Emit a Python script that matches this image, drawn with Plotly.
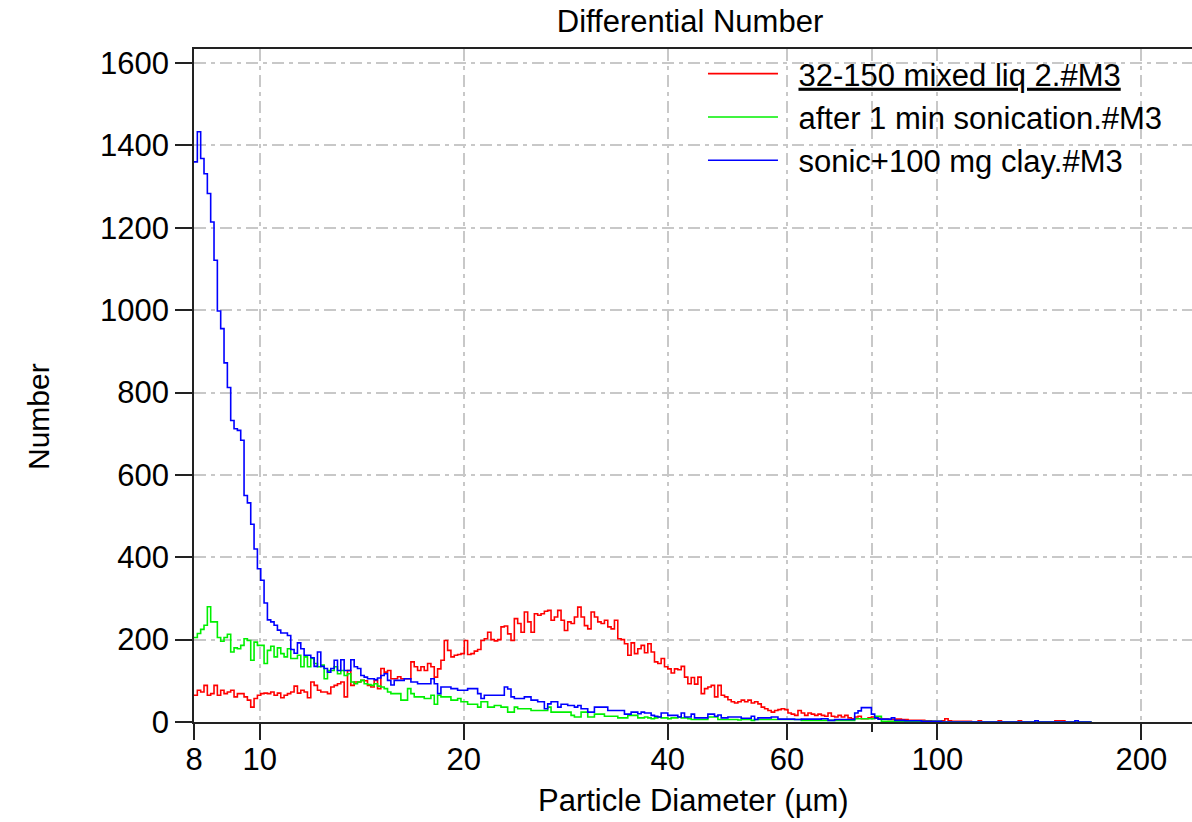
import numpy as np
import plotly.graph_objects as go

# Coulter-type channel grid: 300 log-spaced channels per 30x size range,
# shown here from 8 um upwards
CHANNEL_STEP = np.log10(30) / 300
START_UM = 8.0

# Differential number per channel (counts), one value per channel
mixed_liq = [
    65, 77, 73, 89, 65, 69, 89, 65, 77, 69,
    73, 77, 61, 69, 69, 61, 53, 36, 57, 65,
    69, 70, 69, 73, 65, 70, 59, 65, 69, 73,
    87, 70, 77, 73, 59, 97, 89, 77, 73, 73,
    69, 85, 89, 93, 97, 61, 125, 89, 97, 97,
    101, 100, 89, 85, 101, 81, 130, 121, 125, 105,
    105, 110, 105, 105, 105, 146, 134, 125, 134, 125,
    142, 134, 109, 129, 150, 198, 174, 158, 162, 164,
    166, 198, 164, 166, 172, 176, 198, 202, 218, 200,
    197, 200, 231, 233, 214, 198, 251, 239, 218, 267,
    243, 218, 263, 259, 263, 269, 271, 247, 255, 271,
    247, 222, 243, 239, 255, 279, 255, 234, 226, 267,
    255, 243, 239, 247, 231, 226, 247, 202, 200, 190,
    162, 192, 166, 178, 186, 168, 190, 170, 146, 142,
    154, 134, 129, 119, 129, 127, 135, 109, 93, 108,
    92, 109, 69, 81, 85, 89, 61, 89, 65, 61,
    54, 49, 46, 49, 53, 49, 53, 46, 49, 44,
    36, 32, 28, 24, 28, 30, 32, 30, 22, 19,
    16, 28, 22, 16, 22, 19, 16, 19, 16, 14,
    22, 14, 12, 16, 12, 16, 10, 8, 12, 14,
    8, 8, 10, 12, 9, 9, 7, 7, 6, 6,
    7, 7, 6, 6, 4, 4, 4, 4, 4, 3,
    3, 2, 2, 2, 3, 8, 3, 2, 2, 2,
    2, 2, 2, 0, 0, 3, 0, 0, 0, 0,
    0, 3, 0, 0, 0, 0, 0, 3, 0, 0,
    0, 0, 0, 0, 0, 0, 0, 0, 3, 3,
    3, 0, 0, 0, 0, 0, 0, 0, 0,
]

after_sonication = [
    205, 215, 225, 235, 280, 243, 243, 205, 196, 205,
    213, 170, 180, 178, 186, 202, 198, 150, 194, 186,
    186, 142, 174, 184, 158, 180, 166, 158, 178, 154,
    154, 162, 134, 158, 134, 154, 142, 134, 138, 105,
    125, 125, 134, 117, 125, 113, 117, 97, 93, 97,
    101, 93, 91, 89, 93, 87, 85, 81, 73, 69,
    69, 69, 53, 53, 81, 69, 61, 61, 61, 57,
    57, 65, 43, 65, 61, 61, 61, 53, 53, 57,
    49, 49, 43, 43, 43, 36, 49, 49, 36, 36,
    40, 40, 36, 36, 24, 24, 36, 32, 32, 32,
    32, 28, 28, 28, 28, 28, 36, 24, 24, 24,
    24, 24, 24, 16, 12, 12, 24, 24, 12, 12,
    19, 19, 19, 14, 14, 14, 14, 10, 10, 10,
    16, 16, 16, 10, 10, 12, 10, 8, 10, 12,
    10, 10, 8, 10, 10, 12, 10, 10, 8, 6,
    6, 6, 6, 6, 12, 12, 12, 6, 6, 6,
    6, 6, 6, 5, 6, 6, 6, 4, 6, 6,
    6, 6, 6, 6, 6, 6, 6, 6, 6, 6,
    6, 6, 4, 4, 4, 4, 4, 4, 4, 4,
    4, 4, 4, 4, 4, 4, 4, 4, 8, 8,
    8, 8, 8, 8, 14, 14, 2, 2, 2, 2,
    2, 2, 2, 2, 2, 2, 2, 2, 2, 2,
    2, 2, 2, 2, 0, 0, 0, 0, 0, 0,
    0, 0, 0, 0, 0, 0, 0, 0, 0, 0,
    0, 0, 0, 0, 0, 0, 0, 0, 0, 0,
    0, 0, 0, 0, 0, 0, 0, 0, 0, 0,
    0, 0, 0, 0, 0, 0, 0, 0, 0,
]

sonic_clay = [
    1360, 1433, 1368, 1331, 1283, 1214, 1121, 998, 955, 872,
    812, 732, 712, 708, 684, 550, 532, 480, 420, 372,
    344, 289, 248, 243, 235, 223, 216, 216, 210, 176,
    167, 192, 178, 162, 162, 156, 135, 170, 135, 130,
    121, 130, 150, 125, 151, 125, 125, 151, 134, 130,
    113, 109, 105, 105, 103, 107, 113, 117, 101, 90,
    101, 101, 101, 105, 105, 97, 97, 93, 93, 93,
    93, 105, 93, 69, 85, 85, 85, 81, 81, 77,
    77, 77, 81, 81, 81, 69, 57, 65, 65, 65,
    65, 65, 65, 85, 80, 61, 57, 57, 57, 61,
    61, 53, 53, 49, 49, 32, 44, 49, 49, 36,
    43, 43, 40, 40, 36, 40, 32, 32, 24, 24,
    36, 36, 36, 36, 28, 28, 28, 28, 28, 19,
    19, 24, 24, 20, 24, 22, 22, 16, 14, 12,
    22, 22, 16, 16, 16, 12, 22, 12, 12, 19,
    10, 10, 10, 10, 19, 19, 14, 17, 10, 10,
    12, 12, 12, 12, 9, 9, 9, 14, 6, 10,
    10, 10, 10, 12, 12, 7, 7, 7, 7, 7,
    6, 6, 7, 7, 7, 7, 7, 7, 8, 8,
    4, 4, 6, 6, 6, 6, 6, 6, 22, 27,
    35, 35, 35, 19, 10, 7, 7, 7, 7, 10,
    4, 4, 4, 3, 3, 3, 3, 3, 2, 2,
    2, 2, 2, 2, 0, 0, 0, 0, 0, 0,
    0, 0, 0, 0, 0, 0, 0, 0, 0, 0,
    0, 0, 0, 0, 0, 0, 0, 0, 0, 0,
    0, 0, 3, 0, 0, 0, 0, 0, 0, 0,
    0, 0, 0, 0, 3, 0, 0, 0, 0,
]

series_names = [
    "\u2002<u>32-150 mixed liq 2.#M3</u>",
    "\u2002after 1 min sonication.#M3",
    "\u2002sonic+100 mg clay.#M3",
]
series_colors = ["#ff0000", "#00f000", "#0000ff"]

x_tick_vals = [8, 10, 20, 40, 60, 100, 200]
x_tick_text = ["8", "10", "20", "40", "60", "100", "200"]
y_tick_vals = [0, 200, 400, 600, 800, 1000, 1200, 1400, 1600]

FONT = "Liberation Sans, Arial, sans-serif"
GRID = "#c8c8c8"
AXIS = "#222222"
DASH = "12px,5px,4px,5px"


def channel_edges(n):
    return START_UM * 10 ** (CHANNEL_STEP * np.arange(n + 1))


fig = go.Figure()
for name, color, vals in zip(series_names,
                             series_colors,
                             [mixed_liq, after_sonication, sonic_clay]):
    edges = channel_edges(len(vals))
    fig.add_trace(go.Scatter(
        x=edges,
        y=list(vals) + [vals[-1]],
        mode="lines",
        line=dict(color=color, width=1.6, shape="hv"),
        name=name,
        hoverinfo="skip",
    ))

W, H = 1192, 822
ML, MR, MT, MB = 194, 0, 49, 100
PX_PER_DECADE = 677.7
x_lo = np.log10(8)
x_hi = x_lo + (W - ML - MR) / PX_PER_DECADE

fig.update_layout(
    width=W, height=H,
    margin=dict(l=ML, r=MR, t=MT, b=MB, pad=0),
    paper_bgcolor="white",
    plot_bgcolor="white",
    font=dict(family=FONT, size=30, color="black"),
    title=dict(
        text="Differential Number",
        font=dict(family=FONT, size=31, color="black"),
        x=0.497, xref="paper", xanchor="center",
        y=1 - 21 / H, yref="container", yanchor="middle",
    ),
    showlegend=True,
    legend=dict(
        x=0.510, xanchor="left",
        y=1.003, yanchor="top",
        bgcolor="rgba(0,0,0,0)",
        borderwidth=0,
        font=dict(family=FONT, size=31, color="black"),
        itemwidth=70,
        tracegroupgap=0,
        itemclick=False,
    ),
    xaxis=dict(
        type="log",
        range=[x_lo, x_hi],
        tickmode="array",
        tickvals=x_tick_vals,
        ticktext=x_tick_text,
        ticks="outside", ticklen=16, tickwidth=1.5, tickcolor=AXIS,
        ticklabelstandoff=-7,
        tickfont=dict(family=FONT, size=31, color="black"),
        showline=True, linecolor=AXIS, linewidth=1.5, mirror=True,
        showgrid=True, gridcolor=GRID, gridwidth=1.5, griddash=DASH,
        zeroline=False,
        minor=dict(
            tickmode="array", tickvals=[80],
            ticks="outside", ticklen=8, tickwidth=1.5, tickcolor=AXIS,
            showgrid=True, gridcolor=GRID, gridwidth=1.5, griddash=DASH,
        ),
    ),
    yaxis=dict(
        range=[0, 1634],
        tickmode="array",
        tickvals=y_tick_vals,
        ticks="outside", ticklen=17, tickwidth=1.5, tickcolor=AXIS,
        ticklabelstandoff=0,
        tickfont=dict(family=FONT, size=31, color="black"),
        showline=True, linecolor=AXIS, linewidth=1.5,
        showgrid=True, gridcolor=GRID, gridwidth=1.5, griddash=DASH,
        zeroline=False,
    ),
    annotations=[
        dict(
            text="Particle Diameter (µm)",
            xref="paper", yref="paper",
            x=0.501, y=(H - MB - 800) / (H - MT - MB),
            xanchor="center", yanchor="middle",
            showarrow=False,
            font=dict(family=FONT, size=31, color="black"),
        ),
        dict(
            text="Number",
            xref="paper", yref="paper",
            x=(38 - ML) / (W - ML - MR), y=(H - MB - 417) / (H - MT - MB),
            xanchor="center", yanchor="middle",
            textangle=-90,
            showarrow=False,
            font=dict(family=FONT, size=30, color="black"),
        ),
    ],
)

fig.write_html("out.html")
